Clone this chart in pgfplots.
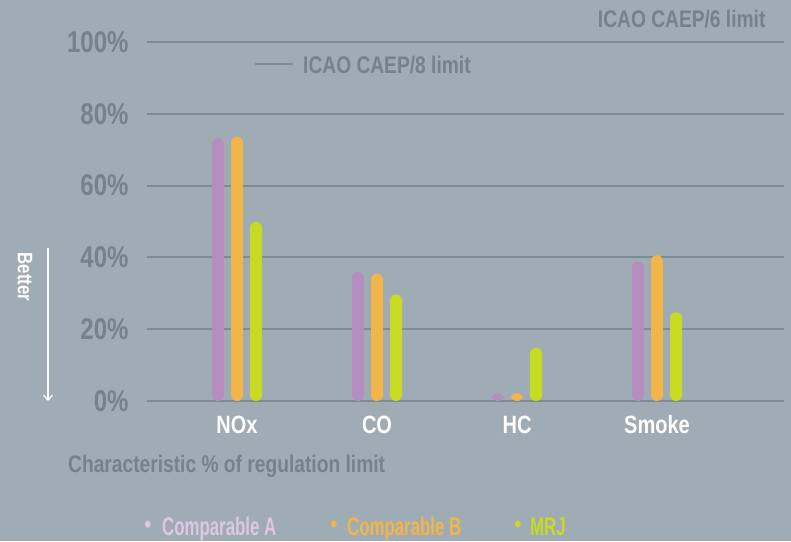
\documentclass[border=0pt]{standalone}
\usepackage{pgfplots}
\pgfplotsset{compat=1.18}
\usepackage{fontspec}
\setmainfont{Liberation Sans}[FakeStretch=0.8]
\newfontfamily\legfont{Liberation Sans}[FakeStretch=0.66]
\usetikzlibrary{arrows.meta}
\definecolor{bgcol}{HTML}{A0ACB5}
\definecolor{gridcol}{HTML}{7E8B95}
\definecolor{txtgray}{HTML}{75828B}
\definecolor{cpurple}{HTML}{B58DBF}
\definecolor{corange}{HTML}{F2B548}
\definecolor{cgreen}{HTML}{C8DA22}
\definecolor{lavender}{HTML}{DCC8E2}
\begin{document}
\begin{tikzpicture}[x=1pt,y=1pt]
\fill[bgcol] (0,0) rectangle (791,541);
\useasboundingbox (0,0) rectangle (791,541);
\begin{axis}[
  at={(147pt,140pt)}, anchor=south west,
  scale only axis, width=637pt, height=359pt,
  xmin=-0.643, xmax=3.907, ymin=0, ymax=100,
  axis line style={draw=none},
  major tick length=0pt,
  ytick={0,20,40,60,80,100},
  yticklabel={\pgfmathprintnumber{\tick}\%},
  /pgf/number format/assume math mode=true,
  ymajorgrids, grid style={gridcol, line width=2pt},
  yticklabel style={font=\bfseries\fontsize{30}{32}\selectfont, text=txtgray, anchor=east, xshift=-15pt},
  xtick={0,1,2,3}, xticklabels={NOx,CO,HC,Smoke},
  xticklabel style={font=\bfseries\fontsize{25}{27}\selectfont, text=white, anchor=center, yshift=-24pt},
  ybar=7pt, bar width=12pt,
  every axis plot/.append style={draw=none, rounded corners=5.9pt},
  clip=false,
]
\addplot[fill=cpurple] coordinates {(0,73.2) (1,36) (2,2.2) (3,38.8)};
\addplot[fill=corange] coordinates {(0,73.6) (1,35.5) (2,2.2) (3,40.6)};
\addplot[fill=cgreen] coordinates {(0,49.9) (1,29.7) (2,14.8) (3,24.7)};
\end{axis}
% annotations
\node[anchor=east, text=txtgray, font=\bfseries\fontsize{24}{26}\selectfont] at (769,522) {ICAO CAEP/6 limit};
\draw[gridcol, line width=2pt] (255,477) -- (293,477);
\node[anchor=west, inner sep=0pt, text=txtgray, font=\bfseries\fontsize{24}{26}\selectfont] at (303,476) {ICAO CAEP/8 limit};
\node[anchor=west, inner sep=0pt, text=txtgray, font=\bfseries\fontsize{24}{26}\selectfont] at (68,75) {Characteristic \% of regulation limit};
\node[rotate=-90, text=white, font=\bfseries\fontsize{21}{23}\selectfont] at (25,264) {Better};
\draw[white, line width=1.2pt, -{Straight Barb[length=5pt,width=9pt]}] (48,293) -- (48,140);
% legend
\node[inner sep=0pt, text=lavender, font=\bfseries\fontsize{24}{26}\selectfont] at (148,14) {•};
\node[inner sep=0pt, text=corange, font=\bfseries\fontsize{24}{26}\selectfont] at (334,14) {•};
\node[inner sep=0pt, text=cgreen, font=\bfseries\fontsize{24}{26}\selectfont] at (518,14) {•};
\node[anchor=base west, inner sep=0pt, text=lavender, font=\legfont\bfseries\fontsize{25.5}{28}\selectfont] at (162,6) {Comparable A};
\node[anchor=base west, inner sep=0pt, text=corange, font=\legfont\bfseries\fontsize{25.5}{28}\selectfont] at (347,6) {Comparable B};
\node[anchor=base west, inner sep=0pt, text=cgreen, font=\legfont\bfseries\fontsize{25.5}{28}\selectfont] at (530,6) {MRJ};
\end{tikzpicture}
\end{document}
